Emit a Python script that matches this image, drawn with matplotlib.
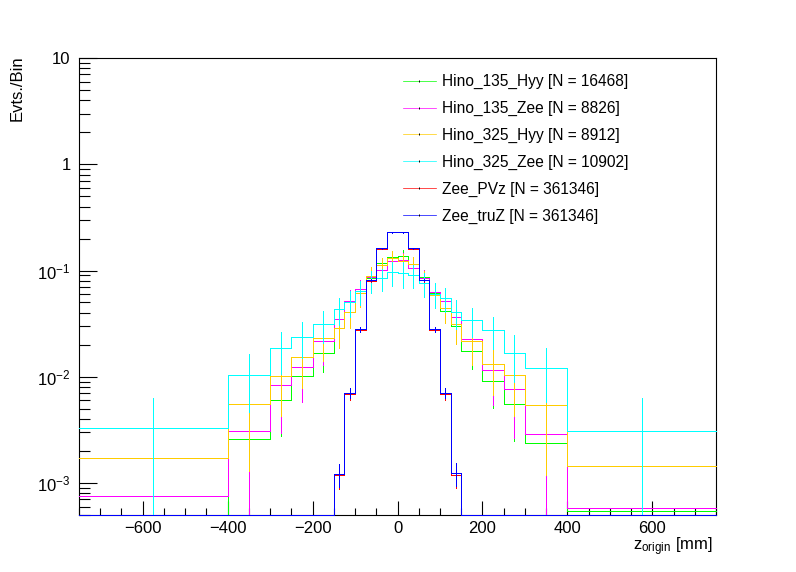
import numpy as np
import matplotlib
matplotlib.use("Agg")
import matplotlib.pyplot as plt
from matplotlib.lines import Line2D
from matplotlib.ticker import MultipleLocator, LogLocator, FixedLocator, FixedFormatter, NullFormatter

plt.rcParams['font.family'] = ['Liberation Sans', 'DejaVu Sans']
plt.rcParams['mathtext.default'] = 'regular'

#%% binning and histogram contents (normalised, Evts./Bin)
edges = [-750, -400, -300, -250, -200, -150, -125, -100, -75, -50, -25, 0,
         25, 50, 75, 100, 125, 150, 200, 250, 300, 400, 750]

labels = ["Hino_135_Hyy [N = 16468]", "Hino_135_Zee [N = 8826]",
          "Hino_325_Hyy [N = 8912]", "Hino_325_Zee [N = 10902]",
          "Zee_PVz [N = 361346]", "Zee_truZ [N = 361346]"]
colors = ['#00ff00', '#ff00ff', '#ffcc00', '#00ffff', '#ff0000', '#0000ff']

hino135_hyy = [0, 0.00257, 0.00598, 0.01007, 0.01657, 0.0285, 0.0408, 0.062, 0.0845, 0.1167, 0.1346,
               0.1375, 0.1148, 0.0873, 0.0608, 0.0415, 0.0299, 0.0174, 0.0091, 0.0056, 0.0024, 0.00055]
hino135_hyy_err = [0, 0.002, 0.0032, 0.004, 0.0055, 0.007, 0.008, 0.010, 0.012, 0.015, 0.016,
                   0.018, 0.015, 0.013, 0.010, 0.008, 0.007, 0.0056, 0.004, 0.0031, 0.0015, 0.0004]

hino135_zee = [0.00076, 0.00312, 0.00828, 0.01223, 0.0216, 0.0346, 0.0519, 0.0664, 0.087, 0.1009, 0.1227,
               0.125, 0.106, 0.0855, 0.0621, 0.0515, 0.0362, 0.0225, 0.0117, 0.00764, 0.00288, 0.000588]
hino135_zee_err = [0.0005, 0.0028, 0.0053, 0.0064, 0.0088, 0.011, 0.0134, 0.015, 0.017, 0.018, 0.020,
                   0.020, 0.018, 0.016, 0.014, 0.012, 0.010, 0.008, 0.0063, 0.005, 0.0027, 0.0005]

hino325_hyy = [0.00172, 0.0056, 0.01007, 0.0152, 0.02296, 0.0289, 0.0406, 0.0608, 0.0891, 0.1124, 0.130,
               0.1227, 0.114, 0.081, 0.0594, 0.044, 0.0313, 0.0216, 0.0133, 0.0103, 0.00548, 0.00146]
hino325_hyy_err = [0.0012, 0.0043, 0.0058, 0.0074, 0.009, 0.0102, 0.012, 0.015, 0.018, 0.020, 0.022,
                   0.021, 0.020, 0.017, 0.015, 0.012, 0.011, 0.0088, 0.0066, 0.006, 0.0043, 0.0012]

hino325_zee = [0.0033, 0.0105, 0.01846, 0.0239, 0.0311, 0.043, 0.0507, 0.0635, 0.080, 0.0842, 0.0959,
               0.094, 0.0906, 0.0756, 0.060, 0.0546, 0.0403, 0.0339, 0.0273, 0.0169, 0.0122, 0.0031]
hino325_zee_err = [0.003, 0.0058, 0.0078, 0.0088, 0.0104, 0.0123, 0.014, 0.016, 0.018, 0.020, 0.025,
                   0.025, 0.022, 0.019, 0.016, 0.014, 0.012, 0.010, 0.009, 0.008, 0.0064, 0.0032]

zee_pvz = [0, 0, 0, 0, 0, 0.00118, 0.0069, 0.0277, 0.0805, 0.161, 0.229,
           0.229, 0.161, 0.0808, 0.0276, 0.0069, 0.00120, 0, 0, 0, 0, 0]
zee_pvz_err = [0, 0, 0, 0, 0, 0.0003, 0.0008, 0.0015, 0.002, 0.003, 0.003,
               0.003, 0.003, 0.002, 0.0015, 0.0008, 0.0003, 0, 0, 0, 0, 0]

zee_truz = [0, 0, 0, 0, 0, 0.00121, 0.00705, 0.028, 0.081, 0.1615, 0.2285,
            0.2285, 0.1615, 0.0813, 0.0279, 0.00705, 0.00124, 0, 0, 0, 0, 0]
zee_truz_err = [0, 0, 0, 0, 0, 0.0003, 0.0008, 0.0015, 0.002, 0.003, 0.003,
                0.003, 0.003, 0.002, 0.0015, 0.0008, 0.0003, 0, 0, 0, 0, 0]

series = [(hino135_hyy, hino135_hyy_err), (hino135_zee, hino135_zee_err),
          (hino325_hyy, hino325_hyy_err), (hino325_zee, hino325_zee_err),
          (zee_pvz, zee_pvz_err), (zee_truz, zee_truz_err)]

ymin, ymax = 5e-4, 10.

#%% plot
fig = plt.figure(figsize=(7.96, 5.72), dpi=100)
ax = fig.add_axes([79/796, 57/572, 637/796, 457/572])
ax.set_yscale('log')

edges_a = np.array(edges, dtype=float)
centers = 0.5 * (edges_a[1:] + edges_a[:-1])
lw = 0.5

# ROOT draws without antialiasing, so keep the lines crisp (1 px)
for (vals, errs), c in zip(series, colors):
    v = np.array(vals, dtype=float)
    e = np.array(errs, dtype=float)
    ax.stairs(np.clip(v, ymin, None), edges_a, baseline=None, color=c, lw=lw,
              clip_on=False, zorder=3, antialiased=False)
    m = v > 0
    lo = np.maximum(v[m] - e[m], 1e-6)
    hi = v[m] + e[m]
    ax.vlines(centers[m], lo, hi, colors=c, lw=lw, zorder=3, antialiased=False)

ax.set_xlim(-750, 750)
ax.set_ylim(ymin, ymax)

ax.xaxis.set_major_locator(MultipleLocator(200))
ax.xaxis.set_minor_locator(MultipleLocator(50))
ax.yaxis.set_major_locator(FixedLocator([1e-3, 1e-2, 1e-1, 1, 10]))
ax.yaxis.set_major_formatter(FixedFormatter(['$10^{-3}$', '$10^{-2}$', '$10^{-1}$', '1', '10']))
ax.yaxis.set_minor_locator(LogLocator(base=10, subs=np.arange(2, 10), numticks=20))
ax.yaxis.set_minor_formatter(NullFormatter())

ax.tick_params(axis='x', which='major', direction='in', length=10, width=0.8, labelsize=12, pad=4)
ax.tick_params(axis='x', which='minor', direction='in', length=5, width=0.8)
ax.tick_params(axis='y', which='major', direction='in', length=13, width=0.8, labelsize=12, pad=6)
ax.tick_params(axis='y', which='minor', direction='in', length=8, width=0.8)
for s in ax.spines.values():
    s.set_linewidth(0.8)

fig.text(17/796, 1 - 55/572, 'Evts./Bin', rotation=90, ha='center', va='top', fontsize=12)
fig.text(713/796, 1 - 547/572, 'z$_{origin}$ [mm]', ha='right', va='center', fontsize=12)

handles = [Line2D([0], [0], color=c, lw=lw, antialiased=False, marker='|', markersize=1.5,
                  markeredgecolor='black', markeredgewidth=0.7) for c in colors]
fig.legend(handles, labels, loc='upper left', bbox_to_anchor=(403/796, 1 - 74/572),
           frameon=False, fontsize=11.2, handlelength=2.1, handletextpad=0.4,
           labelspacing=0.76, borderpad=0, borderaxespad=0)

fig.savefig('out.png', dpi=100)
